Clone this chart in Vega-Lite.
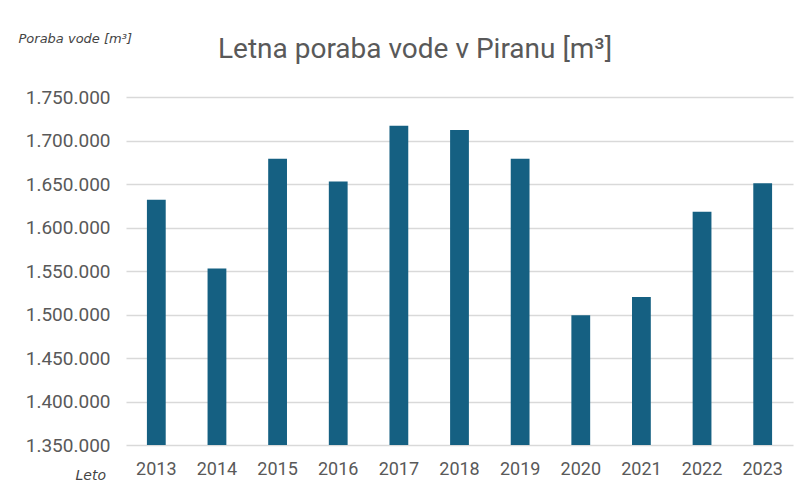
{
  "$schema": "https://vega.github.io/schema/vega-lite/v6.json",
  "autosize": "none",
  "width": 667,
  "height": 348,
  "padding": {"left": 126, "top": 97, "right": 13, "bottom": 46},
  "background": "white",
  "title": {
    "text": "Letna poraba vode v Piranu [m³]",
    "anchor": "start",
    "dx": 200,
    "offset": -32,
    "font": "Roboto, sans-serif",
    "fontSize": 28,
    "fontWeight": "normal",
    "color": "#595959"
  },
  "data": {
    "values": [
      {"leto": "2013", "poraba": 1632000},
      {"leto": "2014", "poraba": 1553000},
      {"leto": "2015", "poraba": 1679000},
      {"leto": "2016", "poraba": 1653000},
      {"leto": "2017", "poraba": 1717000},
      {"leto": "2018", "poraba": 1712000},
      {"leto": "2019", "poraba": 1679000},
      {"leto": "2020", "poraba": 1499000},
      {"leto": "2021", "poraba": 1520000},
      {"leto": "2022", "poraba": 1618000},
      {"leto": "2023", "poraba": 1651000}
    ]
  },
  "mark": {"type": "bar", "color": "#156082"},
  "encoding": {
    "x": {
      "field": "leto",
      "type": "ordinal",
      "scale": {"paddingInner": 0.69, "paddingOuter": 0.345},
      "axis": {
        "title": "Leto",
        "titleAngle": 0,
        "titleX": -51,
        "titleY": 30,
        "titleAlign": "left",
        "titleBaseline": "middle",
        "titleFont": "DejaVu Sans",
        "titleFontStyle": "italic",
        "titleFontWeight": "normal",
        "titleFontSize": 14,
        "titleColor": "#444444",
        "labelAngle": 0,
        "labelFont": "Roboto, sans-serif",
        "labelFontSize": 18,
        "labelColor": "#595959",
        "labelPadding": 15,
        "ticks": false,
        "domain": false
      }
    },
    "y": {
      "field": "poraba",
      "type": "quantitative",
      "scale": {"domain": [1350000, 1750000], "nice": false, "zero": false},
      "axis": {
        "title": "Poraba vode [m³]",
        "titleAngle": 0,
        "titleX": -108,
        "titleY": -59,
        "titleAlign": "left",
        "titleBaseline": "middle",
        "titleFont": "DejaVu Sans",
        "titleFontStyle": "italic",
        "titleFontWeight": "normal",
        "titleFontSize": 13,
        "titleColor": "#444444",
        "values": [1350000, 1400000, 1450000, 1500000, 1550000, 1600000, 1650000, 1700000, 1750000],
        "format": ",d",
        "labelFont": "Roboto, sans-serif",
        "labelFontSize": 19,
        "labelColor": "#595959",
        "labelPadding": 16,
        "ticks": false,
        "domain": false,
        "grid": true,
        "gridColor": "#d9d9d9",
        "gridWidth": 1.5
      }
    },
    "y2": {"datum": 1350000}
  },
  "config": {
    "view": {"stroke": null},
    "locale": {
      "number": {"decimal": ",", "thousands": ".", "grouping": [3], "currency": ["", " €"]}
    }
  }
}
